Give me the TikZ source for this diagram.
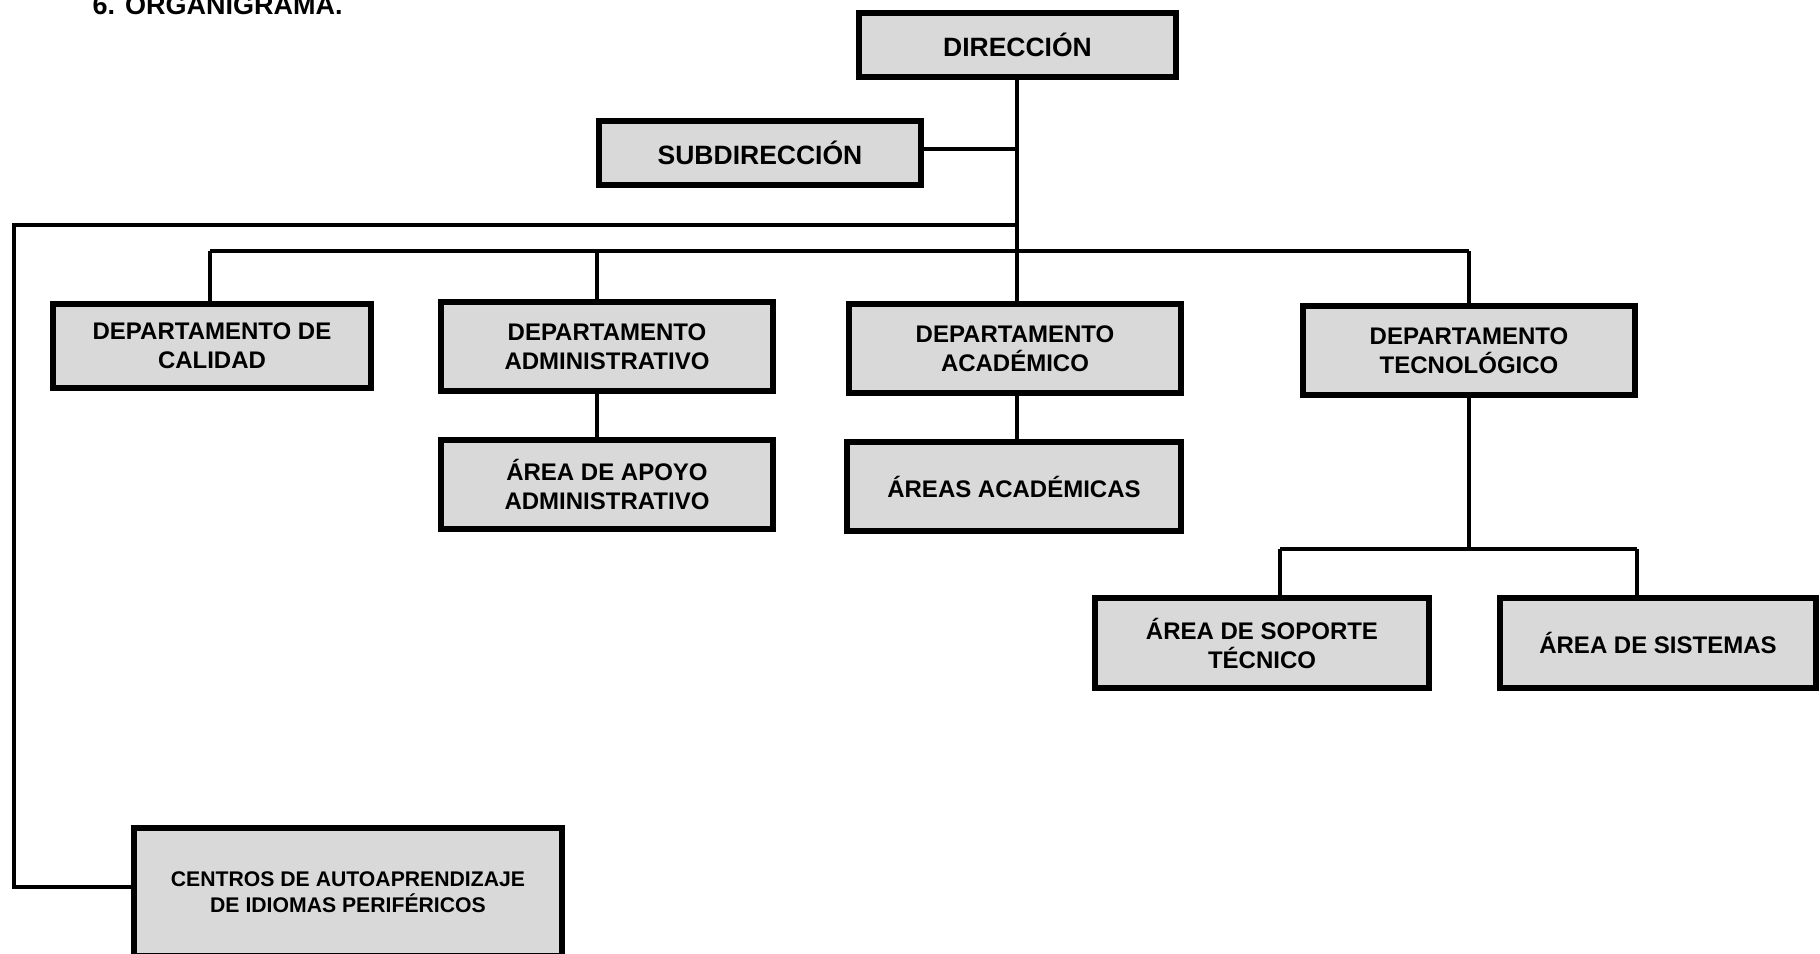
\documentclass[tikz,border=0pt]{standalone}
\usepackage{fontspec}
\setmainfont{Liberation Sans}
\definecolor{boxgray}{HTML}{D9D9D9}
\tikzset{
  orgbox/.style={draw=black, fill=boxgray, line width=5.8pt, rectangle, inner sep=0pt,
    align=center, font=\fontsize{24}{29}\selectfont\bfseries},
  bigbox/.style={orgbox, font=\fontsize{26.5}{31}\selectfont\bfseries},
  smallbox/.style={orgbox, font=\fontsize{21.2}{26.5}\selectfont\bfseries},
  link/.style={draw=black, line width=3.6pt}
}
\begin{document}
\begin{tikzpicture}[x=1pt, y=-1pt]
\useasboundingbox (0,0) rectangle (1820,953);
\clip (0,0) rectangle (1820,953);
\fill[white] (0,0) rectangle (1820,953);

\node[anchor=base west, font=\fontsize{27}{30}\selectfont\bfseries] (title) at (89,14) {6. ORGANIGRAMA.};

% boxes (size = outer size minus line width)
\node[bigbox, minimum width=317.5pt, minimum height=64.5pt] (dir) at (1017.5,45) {DIRECCIÓN};
\node[bigbox, minimum width=322.5pt, minimum height=64.5pt] (sub) at (760,153) {SUBDIRECCIÓN};

\node[orgbox, minimum width=318.5pt, minimum height=84.5pt] (cal) at (212,346) {DEPARTAMENTO DE\\CALIDAD};
\node[orgbox, minimum width=332.5pt, minimum height=89.5pt] (adm) at (607,346.5) {DEPARTAMENTO\\ADMINISTRATIVO};
\node[orgbox, minimum width=332.5pt, minimum height=89.5pt] (aca) at (1015,348.5) {DEPARTAMENTO\\ACADÉMICO};
\node[orgbox, minimum width=332.5pt, minimum height=89.5pt] (tec) at (1469,350.5) {DEPARTAMENTO\\TECNOLÓGICO};

\node[orgbox, minimum width=332.5pt, minimum height=89.5pt] (apo) at (607,484.5) {ÁREA DE APOYO\\ADMINISTRATIVO};
\node[orgbox, minimum width=334.5pt, minimum height=89.5pt] (areas) at (1014,486.5) {ÁREAS ACADÉMICAS};

\node[orgbox, minimum width=334.5pt, minimum height=90.5pt] (sop) at (1262,643) {ÁREA DE SOPORTE\\TÉCNICO};
\node[orgbox, minimum width=316.5pt, minimum height=90.5pt] (sis) at (1658,643) {ÁREA DE SISTEMAS};

\node[smallbox, minimum width=428.5pt, minimum height=128.5pt] (cen) at (348,892) {CENTROS DE AUTOAPRENDIZAJE\\DE IDIOMAS PERIFÉRICOS};

% junction coordinates
\coordinate (jsub) at (1017,149);
\coordinate (jleft) at (1017,225);
\coordinate (lcorner1) at (14,225);
\coordinate (lcorner2) at (14,887);
\coordinate (bcal) at (210,251);
\coordinate (badm) at (597,251);
\coordinate (baca) at (1017,251);
\coordinate (btec) at (1469,251);
\coordinate (tbus) at (1469,549);
\coordinate (tsop) at (1280,549);
\coordinate (tsis) at (1637,549);

% connectors
\draw[link] (baca |- dir.south) -- (baca |- aca.north);
\draw[link] (sub.east |- jsub) -- (jsub);
\draw[link] (jleft) -- (lcorner1) -- (lcorner2) -- (cen.west |- lcorner2);
\draw[link] (bcal) -- (btec);
\draw[link] (bcal) -- (bcal |- cal.north);
\draw[link] (badm) -- (badm |- adm.north);
\draw[link] (btec) -- (btec |- tec.north);
\draw[link] (badm |- adm.south) -- (badm |- apo.north);
\draw[link] (baca |- aca.south) -- (baca |- areas.north);
\draw[link] (btec |- tec.south) -- (tbus);
\draw[link] (tsop) -- (tsis);
\draw[link] (tsop) -- (tsop |- sop.north);
\draw[link] (tsis) -- (tsis |- sis.north);
\end{tikzpicture}
\end{document}
